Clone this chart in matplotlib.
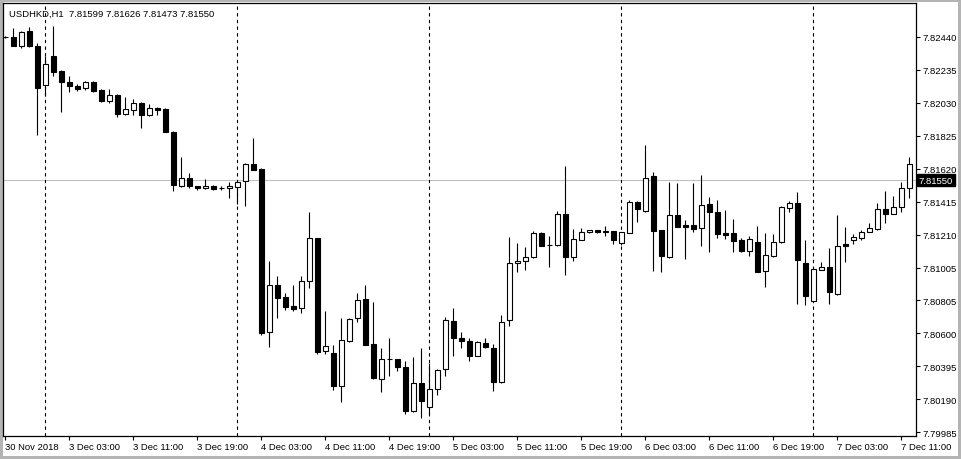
import matplotlib
matplotlib.use("Agg")
import matplotlib.pyplot as plt
import matplotlib.transforms as mtransforms
import numpy as np

plt.rcParams["font.family"] = ["Liberation Sans", "DejaVu Sans"]

# hourly USDHKD bars, 30 Nov 2018 19:00 .. 7 Dec 2018 12:00
opens = [7.82441, 7.82436, 7.82380, 7.82474, 7.82380, 7.82142, 7.82318, 7.82229, 7.82161, 7.82132,
         7.82120, 7.82161, 7.82111, 7.82039, 7.82078, 7.81962, 7.81983, 7.82029, 7.81956, 7.81996,
         7.81991, 7.81851, 7.81515, 7.81561, 7.81512, 7.81499, 7.81512, 7.81499, 7.81499, 7.81505,
         7.81543, 7.81652, 7.81619, 7.80606, 7.80899, 7.80823, 7.80767, 7.80755, 7.80922, 7.81191,
         7.80490, 7.80477, 7.80270, 7.80553, 7.80692, 7.80812, 7.80533, 7.80314, 7.80443, 7.80440,
         7.80390, 7.80119, 7.80291, 7.80140, 7.80254, 7.80378, 7.80674, 7.80568, 7.80550, 7.80460,
         7.80537, 7.80506, 7.80295, 7.80682, 7.81034, 7.81050, 7.81075, 7.81220, 7.81149, 7.81149,
         7.81338, 7.81075, 7.81180, 7.81226, 7.81239, 7.81234, 7.81232, 7.81158, 7.81220, 7.81416,
         7.81360, 7.81574, 7.81242, 7.81073, 7.81332, 7.81271, 7.81271, 7.81251, 7.81400, 7.81352,
         7.81222, 7.81220, 7.81178, 7.81112, 7.81164, 7.80984, 7.81081, 7.81164, 7.81379, 7.81408,
         7.81036, 7.80802, 7.80994, 7.81011, 7.80843, 7.81152, 7.81180, 7.81191, 7.81230, 7.81247,
         7.81371, 7.81338, 7.81381, 7.81499]
highs = [7.82444, 7.82492, 7.82475, 7.82498, 7.82401, 7.82318, 7.82508, 7.82233, 7.82194, 7.82147,
         7.82167, 7.82165, 7.82116, 7.82116, 7.82083, 7.82064, 7.82053, 7.82033, 7.82021, 7.82002,
         7.81999, 7.81852, 7.81695, 7.81594, 7.81515, 7.81557, 7.81518, 7.81512, 7.81540, 7.81545,
         7.81653, 7.81811, 7.81625, 7.81046, 7.80955, 7.80848, 7.80899, 7.80957, 7.81354, 7.81193,
         7.80738, 7.80527, 7.80694, 7.80692, 7.80849, 7.80901, 7.80796, 7.80508, 7.80570, 7.80443,
         7.80426, 7.80450, 7.80508, 7.80413, 7.80375, 7.80699, 7.80756, 7.80606, 7.80570, 7.80550,
         7.80568, 7.80533, 7.80715, 7.81195, 7.81160, 7.81133, 7.81232, 7.81226, 7.81201, 7.81360,
         7.81640, 7.81247, 7.81253, 7.81240, 7.81240, 7.81263, 7.81234, 7.81228, 7.81427, 7.81422,
         7.81768, 7.81599, 7.81243, 7.81540, 7.81532, 7.81303, 7.81532, 7.81582, 7.81443, 7.81427,
         7.81365, 7.81309, 7.81191, 7.81201, 7.81263, 7.81220, 7.81216, 7.81388, 7.81422, 7.81474,
         7.81180, 7.81005, 7.81040, 7.81129, 7.81334, 7.81257, 7.81216, 7.81240, 7.81284, 7.81408,
         7.81482, 7.81453, 7.81536, 7.81692]
lows = [7.82432, 7.82379, 7.82372, 7.82374, 7.81832, 7.82074, 7.82198, 7.81975, 7.82099, 7.82105,
        7.82111, 7.82095, 7.82037, 7.82027, 7.81944, 7.81956, 7.81956, 7.81872, 7.81950, 7.81956,
        7.81846, 7.81484, 7.81505, 7.81499, 7.81491, 7.81495, 7.81489, 7.81491, 7.81437, 7.81402,
        7.81391, 7.81611, 7.80591, 7.80513, 7.80692, 7.80746, 7.80738, 7.80724, 7.80879, 7.80471,
        7.80471, 7.80249, 7.80171, 7.80544, 7.80668, 7.80527, 7.80316, 7.80233, 7.80336, 7.80364,
        7.80099, 7.80109, 7.80072, 7.80099, 7.80216, 7.80336, 7.80457, 7.80506, 7.80429, 7.80458,
        7.80508, 7.80243, 7.80294, 7.80647, 7.80978, 7.80994, 7.81069, 7.81139, 7.81009, 7.81143,
        7.80963, 7.81050, 7.81178, 7.81220, 7.81220, 7.81205, 7.81154, 7.81147, 7.81219, 7.81292,
        7.81350, 7.80988, 7.80982, 7.81067, 7.81259, 7.81060, 7.81230, 7.81143, 7.81106, 7.81189,
        7.81185, 7.81106, 7.81102, 7.81077, 7.80980, 7.80885, 7.81071, 7.81158, 7.81354, 7.80781,
        7.80775, 7.80800, 7.80992, 7.80781, 7.80839, 7.81040, 7.81154, 7.81180, 7.81226, 7.81240,
        7.81282, 7.81337, 7.81350, 7.81437]
closes = [7.82435, 7.82380, 7.82471, 7.82384, 7.82120, 7.82269, 7.82219, 7.82157, 7.82132, 7.82116,
          7.82161, 7.82101, 7.82039, 7.82078, 7.81960, 7.81991, 7.82027, 7.81956, 7.81998, 7.81987,
          7.81847, 7.81520, 7.81561, 7.81512, 7.81499, 7.81512, 7.81493, 7.81499, 7.81512, 7.81536,
          7.81650, 7.81615, 7.80603, 7.80897, 7.80820, 7.80764, 7.80750, 7.80922, 7.81191, 7.80483,
          7.80521, 7.80270, 7.80558, 7.80686, 7.80806, 7.80529, 7.80320, 7.80440, 7.80437, 7.80392,
          7.80119, 7.80291, 7.80177, 7.80254, 7.80372, 7.80682, 7.80568, 7.80550, 7.80460, 7.80544,
          7.80512, 7.80295, 7.80668, 7.81034, 7.81050, 7.81075, 7.81222, 7.81143, 7.81147, 7.81338,
          7.81075, 7.81185, 7.81226, 7.81239, 7.81226, 7.81226, 7.81180, 7.81226, 7.81412, 7.81371,
          7.81561, 7.81236, 7.81077, 7.81332, 7.81261, 7.81261, 7.81247, 7.81394, 7.81354, 7.81216,
          7.81209, 7.81174, 7.81110, 7.81185, 7.80982, 7.81083, 7.81164, 7.81381, 7.81408, 7.81056,
          7.80833, 7.80998, 7.81013, 7.80858, 7.81139, 7.81143, 7.81197, 7.81226, 7.81253, 7.81371,
          7.81338, 7.81381, 7.81499, 7.81650]

price_ticks = [7.82440, 7.82235, 7.82030, 7.81825, 7.81620, 7.81415, 7.81210,
               7.81005, 7.80805, 7.80600, 7.80395, 7.80190, 7.79985]
time_labels = ["30 Nov 2018", "3 Dec 03:00", "3 Dec 11:00", "3 Dec 19:00", "4 Dec 03:00",
               "4 Dec 11:00", "4 Dec 19:00", "5 Dec 03:00", "5 Dec 11:00", "5 Dec 19:00",
               "6 Dec 03:00", "6 Dec 11:00", "6 Dec 19:00", "7 Dec 03:00", "7 Dec 11:00"]
time_label_bars = [0, 8, 16, 24, 32, 40, 48, 56, 64, 72, 80, 88, 96, 104, 112]
day_start_bars = [5, 29, 53, 77, 101]
bid = 7.81550
header = "USDHKD,H1  7.81599 7.81626 7.81473 7.81550"

o = np.array(opens)
h = np.array(highs)
l = np.array(lows)
c = np.array(closes)
idx = np.arange(len(o))

fig = plt.figure(figsize=(9.61, 4.60), dpi=100)
fig.patch.set_facecolor("white")
fig.patch.set_edgecolor("#b4b4b4")
fig.patch.set_linewidth(3)
ax = fig.add_axes([3.3 / 961, 1 - 436.7 / 460, (916 - 3.3) / 961, (436.7 - 3.5) / 460])

# day separators
for b in day_start_bars:
    ax.axvline(b, color="black", lw=0.8, ls=(0, (3, 3)), zorder=1)

# bid line
ax.axhline(bid, color="#c0c0c0", lw=0.8, zorder=0)

# wicks then bodies
ax.vlines(idx, l, h, color="black", lw=0.8, zorder=2)
up = c >= o
bottoms = np.minimum(o, c)
heights = np.abs(c - o)
ax.bar(idx[up], heights[up], bottom=bottoms[up], width=0.6, color="white",
       edgecolor="black", linewidth=0.8, zorder=3)
ax.bar(idx[~up], heights[~up], bottom=bottoms[~up], width=0.6, color="black",
       edgecolor="black", linewidth=0.8, zorder=3)

ax.set_xlim(-0.25, 113.84)
ax.set_ylim(7.79964, 7.82652)

ax.yaxis.tick_right()
ax.set_yticks(price_ticks)
ax.set_yticklabels([f"{p:.5f}" for p in price_ticks])
ax.set_xticks(time_label_bars)
ax.set_xticklabels(time_labels, ha="left")
ax.tick_params(axis="both", labelsize=6.8, length=3, width=0.8, color="black", pad=1.5)
ax.tick_params(axis="y", pad=2)
for s in ax.spines.values():
    s.set_linewidth(0.9)
    s.set_color("black")

# bid label on price axis
trans = mtransforms.blended_transform_factory(ax.transAxes, ax.transData)
ax.text(1.003, bid, f"{bid:.5f}", transform=trans, ha="left", va="center",
        fontsize=6.8, color="white",
        bbox=dict(boxstyle="square,pad=0.18", fc="black", ec="black"), zorder=5, clip_on=False)

ax.text(0.006, 0.985, header, transform=ax.transAxes, ha="left", va="top",
        fontsize=6.8, color="black")

fig.savefig("out.png", dpi=100, facecolor=fig.get_facecolor(), edgecolor=fig.get_edgecolor())
